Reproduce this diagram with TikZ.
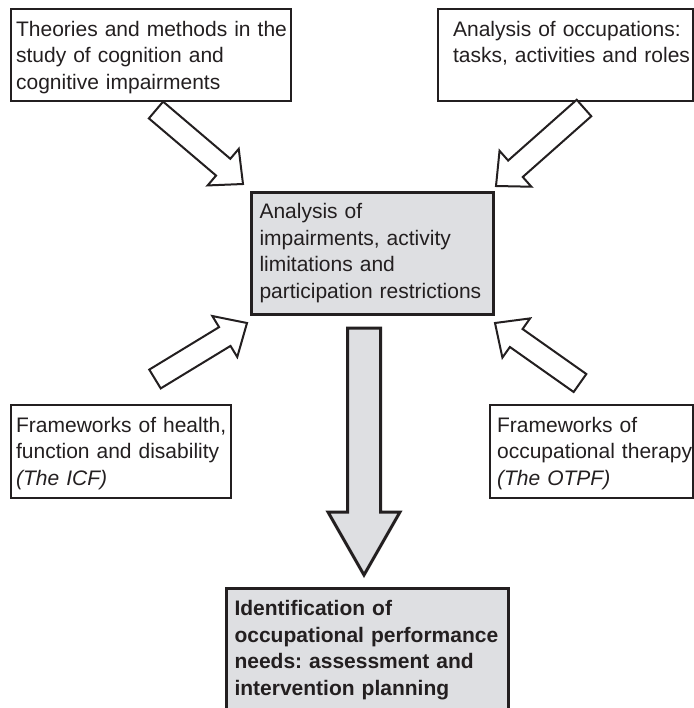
\documentclass[tikz,border=0pt]{standalone}
\usepackage{fontspec}
\setmainfont{Liberation Sans}
\frenchspacing
\usetikzlibrary{calc}
\definecolor{ink}{RGB}{35,31,32}
\definecolor{boxgray}{RGB}{222,223,226}
% hollow block arrow: #1 style, #2 tail, #3 tip, #4 half shaft, #5 half head, #6 head length
\newcommand{\blockarrow}[6][]{%
  \coordinate (#2-h) at ($(#3)!#6!(#2)$);
  \draw[#1] ($(#2)!#4!90:(#3)$) -- ($(#2-h)!#4!90:(#3)$) -- ($(#2-h)!#5!90:(#3)$) -- (#3)
    -- ($(#2-h)!#5!-90:(#3)$) -- ($(#2-h)!#4!-90:(#3)$) -- ($(#2)!#4!-90:(#3)$) -- cycle;
}

\begin{document}
\begin{tikzpicture}[x=0.5pt,y=-0.5pt,line join=miter,
    box/.style={draw=ink,line width=1.1pt,anchor=north west,align=left,inner sep=0pt,
      text=ink,font=\fontsize{10.5pt}{13.25pt}\selectfont,text height=13.5pt},
    textpad/.style={execute at begin node={\leftskip=#1\rightskip=-20pt plus 1fil}},
    keybox/.style={box,fill=boxgray,line width=1.5pt},
    side arrow/.style={draw=ink,fill=white,line width=1pt},
    main arrow/.style={draw=ink,fill=boxgray,line width=1.5pt}]
  \useasboundingbox (0,0) rectangle (694,708);

  \node[box,textpad=2.5pt,text width=140pt,text depth=32.5pt] (theories) at (10,8)
    {Theories and methods in the\\study of cognition and\\cognitive impairments};
  \node[box,textpad=7.5pt,text width=127.5pt,text depth=32.5pt] (occupations) at (437,8)
    {Analysis of occupations:\\tasks, activities and roles};
  \node[keybox,textpad=4pt,text width=121pt,text height=13pt,text depth=48pt] (analysis) at (250,191)
    {Analysis of\\impairments, activity\\limitations and\\participation restrictions};
  \node[box,textpad=2.5pt,text width=110pt,text depth=33pt] (icf) at (10,404)
    {Frameworks of health,\\function and disability\\\textit{(The ICF)}};
  \node[box,textpad=3.5pt,text width=101.5pt,text depth=33pt] (otpf) at (489,404)
    {Frameworks of\\occupational therapy\\\textit{(The OTPF)}};
  \node[keybox,textpad=4pt,text width=141pt,text depth=53pt,font=\fontsize{10.5pt}{13.25pt}\selectfont\bfseries] (needs) at (225,587)
    {Identification of\\occupational performance\\needs: assessment and\\intervention planning};

  % arrows
  \coordinate (tl) at (156,110);  \coordinate (tl tip) at (243,184);
  \coordinate (tr) at (584,108);  \coordinate (tr tip) at (496,186);
  \coordinate (bl) at (155,379);  \coordinate (bl tip) at (247,323);
  \coordinate (br) at (580,383);  \coordinate (br tip) at (495,323);
  \coordinate (down) at (364,328); \coordinate (down tip) at (364,575);
  \blockarrow[side arrow]{tl}{tl tip}{5.5pt}{12pt}{13pt}
  \blockarrow[side arrow]{tr}{tr tip}{5.5pt}{12pt}{13pt}
  \blockarrow[side arrow]{bl}{bl tip}{5.5pt}{12pt}{13pt}
  \blockarrow[side arrow]{br}{br tip}{5.5pt}{12pt}{13pt}
  \blockarrow[main arrow]{down}{down tip}{8.25pt}{18pt}{31.5pt}
\end{tikzpicture}
\end{document}
